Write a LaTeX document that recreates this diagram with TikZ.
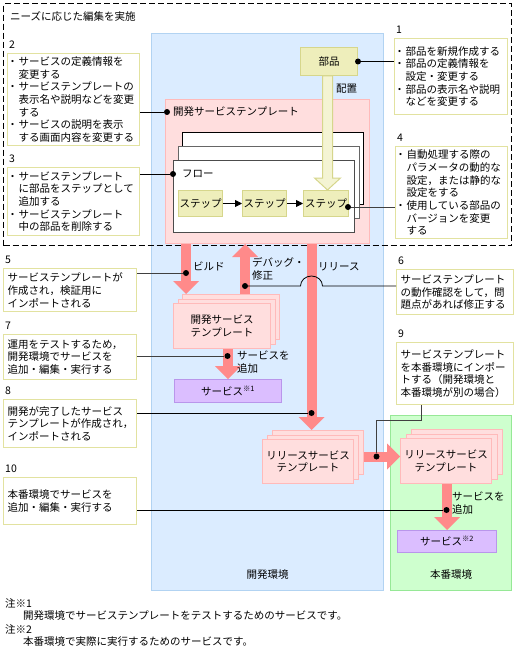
\documentclass[tikz,border=0pt]{standalone}
\usepackage{fontspec}
\setmainfont{Noto Sans CJK JP}
\usetikzlibrary{arrows.meta,calc,positioning}
\definecolor{devblue}{RGB}{219,236,255}
\definecolor{devblueline}{RGB}{178,211,242}
\definecolor{prodgreen}{RGB}{206,255,206}
\definecolor{prodgreenline}{RGB}{150,232,150}
\definecolor{tplpink}{RGB}{255,222,222}
\definecolor{tplpinkline}{RGB}{255,186,186}
\definecolor{arrowpink}{RGB}{255,138,138}
\definecolor{partkhaki}{RGB}{238,238,187}
\definecolor{partkhakiline}{RGB}{214,214,140}
\definecolor{svcpurple}{RGB}{219,190,255}
\definecolor{svcpurpleline}{RGB}{185,150,235}
\definecolor{memoline}{RGB}{226,226,160}
\newcommand{\bu}{\makebox[7pt][l]{\hspace*{-4.2pt}・}}
\newcommand{\ct}{\hspace*{7pt}}
\tikzset{
  region/.style={draw, line width=1pt, anchor=north west, inner sep=0pt},
  memo/.style={draw=memoline, fill=white, line width=1.2pt, anchor=north west, align=left, inner xsep=4pt, inner ysep=0pt},
  numlbl/.style={inner sep=0pt},
  part/.style={draw=partkhakiline, fill=partkhaki, line width=1pt, inner sep=0pt, anchor=north west},
  tpl/.style={draw=tplpinkline, fill=tplpink, line width=1pt, anchor=north west, inner sep=0pt, align=center},
  svc/.style={draw=svcpurpleline, fill=svcpurple, line width=1pt, anchor=north west, inner sep=0pt},
  flowbox/.style={draw, fill=white, line width=1pt, anchor=north west, minimum width=181pt, minimum height=72pt, inner sep=0pt},
  bigarrow/.style={arrowpink, line width=10pt, -{Triangle[width=26pt,length=13pt,line width=0pt]}},
  leader/.style={line width=0.8pt},
  dot/.style={circle, fill, inner sep=0pt, minimum size=6pt},
  plain/.style={anchor=west, inner sep=0pt, align=left},
}
\begin{document}
\begin{tikzpicture}[x=1pt, y=-1pt, font=\fontsize{10.5}{12.7}\selectfont]
\useasboundingbox (0,0) rectangle (516,650);

% environments
\node[region, draw=devblueline, fill=devblue, minimum width=232pt, minimum height=557pt] (kaihatsu) at (151,33) {};
\node[region, draw=prodgreenline, fill=prodgreen, minimum width=121pt, minimum height=175pt] (honban) at (390,415) {};
\node (kaihatsulbl) at ($(kaihatsu.south)+(0,-16)$) {開発環境};
\node (honbanlbl) at ($(honban.south)+(0,-16)$) {本番環境};

% template being edited
\node[region, draw=tplpinkline, fill=tplpink, minimum width=204pt, minimum height=144pt] (devtpl) at (165,99) {};
\node[plain] (devtpllbl) at (173,112) {開発サービステンプレート};
\node[flowbox] (flow3) at (182,132) {};
\node[flowbox, draw=gray!80!black] (flow2) at (178,146) {};
\node[flowbox, draw=gray!60!black] (flow1) at (173,160) {};
\node[plain] (flowlbl) at (182,174) {フロー};
\node[part, minimum width=44pt, minimum height=26pt] (st1) at (178,190) {ステップ};
\node[part, minimum width=44pt, minimum height=26pt] (st2) at (242,190) {ステップ};
\node[part, minimum width=45pt, minimum height=26pt] (st3) at (303,190) {ステップ};
\draw[line width=0.8pt, -{Triangle[width=7pt,length=7pt]}] (st1) -- (st2);
\draw[line width=0.8pt, -{Triangle[width=7pt,length=7pt]}] (st2) -- (st3);

\node[part, minimum width=57pt, minimum height=28pt] (buhin) at (300,47) {部品};
\coordinate (kx) at ([xshift=-1.5pt]buhin.south);
\filldraw[draw=partkhakiline, fill=partkhaki!65!white, line width=1pt]
  ($(kx)+(-5,0)$) -- ($(kx |- st3.north)+(-5,-12)$) -- ++(-8,0) -- (kx |- st3.north)
  -- ($(kx |- st3.north)+(13,-12)$) -- ++(-8,0) -- ($(kx)+(5,0)$) -- cycle;
\node[plain] (haichi) at (336,89) {配置};

\node[region, dash pattern=on 6pt off 3pt, line width=1.2pt, minimum width=508pt, minimum height=242pt] (needs) at (3,3) {};
\node[plain] (needslbl) at (10,16) {ニーズに応じた編集を実施};

% stacked templates
\node[tpl, minimum width=97pt, minimum height=45pt] (dtC) at (182,294) {};
\node[tpl, minimum width=97pt, minimum height=45pt] (dtB) at (177.5,298.5) {};
\node[tpl, minimum width=97pt, minimum height=45pt] (dtA) at (173,303) {開発サービス\\テンプレート};
\node[svc, minimum width=107pt, minimum height=23pt] (svc1) at (174,379) {サービス\textsuperscript{※1}};

\node[tpl, minimum width=91pt, minimum height=44pt] (rtC) at (272,430) {};
\node[tpl, minimum width=91pt, minimum height=44pt] (rtB) at (267,434.5) {};
\node[tpl, minimum width=91pt, minimum height=44pt] (rtA) at (262,439) {リリースサービス\\テンプレート};
\node[tpl, minimum width=91pt, minimum height=45pt] (rpC) at (411,429) {};
\node[tpl, minimum width=91pt, minimum height=45pt] (rpB) at (405.5,433.5) {};
\node[tpl, minimum width=91pt, minimum height=45pt] (rpA) at (400,438) {リリースサービス\\テンプレート};
\node[svc, minimum width=99pt, minimum height=22pt] (svc2) at (397,530) {サービス\textsuperscript{※2}};

% pink arrows
\coordinate (bx) at (186,0);
\coordinate (gx) at (245,0);
\coordinate (rx) at (311.5,0);
\coordinate (ty) at (0,456.5);
\draw[bigarrow] (bx |- devtpl.south) -- (bx |- dtC.north);
\draw[bigarrow] (gx |- dtC.north) -- (gx |- devtpl.south);
\draw[bigarrow] (rx |- devtpl.south) -- (rx |- rtC.north);
\draw[bigarrow] (svc1.north |- dtA.south) -- (svc1.north);
\draw[bigarrow] (rtC.east |- ty) -- (rpA.west |- ty);
\draw[bigarrow] (svc2.north |- rpA.south) -- (svc2.north);
\node[plain] (build) at (193,266) {ビルド};
\node[plain] (debug) at (252,269) {デバッグ・\\修正};
\node[plain] (release) at (318,267) {リリース};
\node[plain] (addsvc1) at (237,362) {サービスを\\追加};
\node[plain] (addsvc2) at (452,503) {サービスを\\追加};

% notes
\node[memo, text width=105pt, minimum height=76pt] (n1) at (394,38) {\bu 部品を新規作成する\\\bu 部品の定義情報を\\\ct 設定・変更する\\\bu 部品の表示名や説明\\\ct などを変更する};
\node[memo, text width=124pt, minimum height=92pt] (n2) at (7,53) {\bu サービスの定義情報を\\\ct 変更する\\\bu サービステンプレートの\\\ct 表示名や説明などを変更\\\ct する\\\bu サービスの説明を表示\\\ct する画面内容を変更する};
\node[memo, text width=124pt, minimum height=68pt] (n3) at (7,167) {\bu サービステンプレート\\\ct に部品をステップとして\\\ct 追加する\\\bu サービステンプレート\\\ct 中の部品を削除する};
\node[memo, text width=104pt, minimum height=92pt] (n4) at (395,146) {\bu 自動処理する際の\\\ct パラメータの動的な\\\ct 設定，または静的な\\\ct 設定をする\\\bu 使用している部品の\\\ct バージョンを変更\\\ct する};
\node[memo, text width=125pt, minimum height=43pt] (n5) at (3,268) {サービステンプレートが\\作成され，検証用に\\インポートされる};
\node[memo, text width=109pt, minimum height=45pt] (n6) at (396,269) {サービステンプレート\\の動作確認をして，問\\題点があれば修正する};
\node[memo, text width=125pt, minimum height=45pt] (n7) at (3,334) {運用をテストするため，\\開発環境でサービスを\\追加・編集・実行する};
\node[memo, text width=125pt, minimum height=48pt] (n8) at (3,399) {開発が完了したサービス\\テンプレートが作成され，\\インポートされる};
\node[memo, text width=109pt, minimum height=62pt] (n9) at (396,342) {サービステンプレート\\を本番環境にインポー\\トする（開発環境と\\本番環境が別の場合）};
\node[memo, text width=125pt, minimum height=47pt] (n10) at (3,477) {本番環境でサービスを\\追加・編集・実行する};
\foreach \n in {1,...,10}
  \node[numlbl, above right=4pt and 2pt of n\n.north west] (l\n) {\n};

% leaders
\node[dot] (d1) at (buhin.east) {};
\node[dot] (d2) at (167,112) {};
\node[dot] (d3) at (173,174) {};
\node[dot] (d4) at (348,207) {};
\node[dot] (d5) at (186,273) {};
\node[dot] (d6) at (245,286) {};
\node[dot] (d7) at (227.5,356) {};
\node[dot] (d8) at (311.5,413) {};
\node[dot] (d9) at (376.5,456.5) {};
\node[dot] (d10) at (446.5,510) {};
\draw[leader] (d1) -- (n1.west |- d1);
\draw[leader] (n2.east |- d2) -- (d2);
\draw[leader] (n3.east |- d3) -- (d3);
\draw[leader, gray!50!black] (d4) -- (n4.west |- d4);
\draw[leader, gray!50!black] (n5.east |- d5) -- (d5);
\draw[leader] (d6) -- ($(rx |- d6)+(-11,0)$) arc[start angle=180, end angle=360, x radius=11, y radius=10] -- (n6.west |- d6);
\draw[leader, gray!50!black] (n7.east |- d7) -- (d7);
\draw[leader] (n8.east |- d8) -- (d8);
\draw[leader, gray!50!black] ($(n9.south west)+(25,0)$) |- ($(d9)+(0,-36)$) -- (d9);
\draw[leader] (n10.east |- d10) -- (d10);

\node[plain] (note1) at (5,603) {注※1};
\node[plain] (note1t) at (23,616) {開発環境でサービステンプレートをテストするためのサービスです。};
\node[plain] (note2) at (5,629) {注※2};
\node[plain] (note2t) at (23,642) {本番環境で実際に実行するためのサービスです。};
\end{tikzpicture}
\end{document}
